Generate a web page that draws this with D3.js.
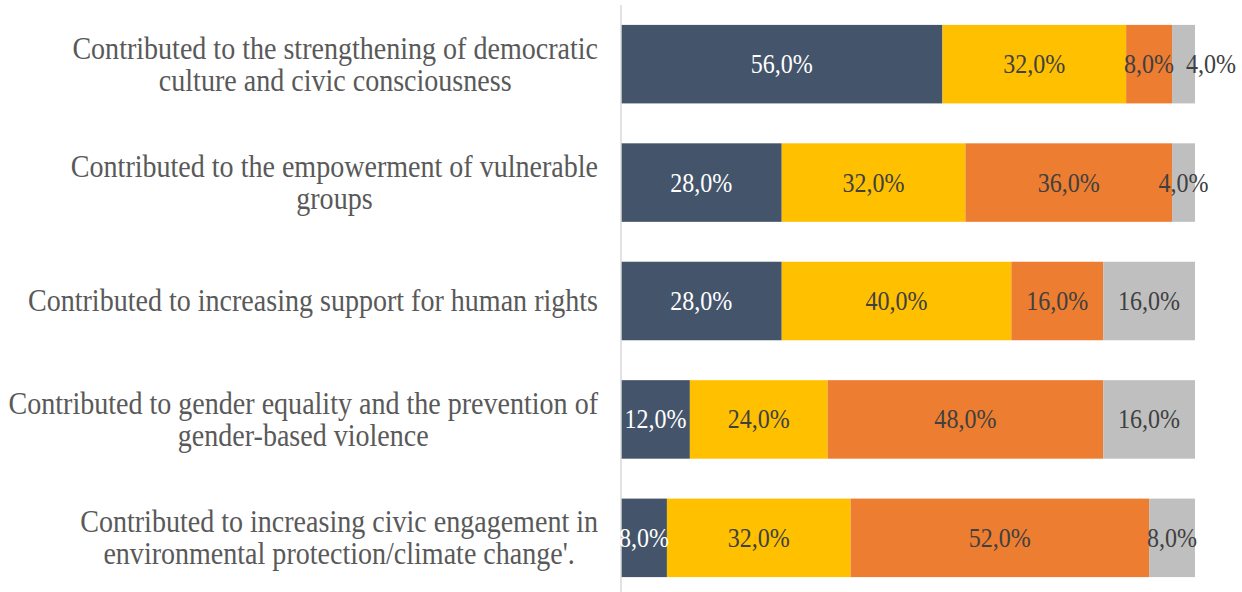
<!DOCTYPE html>
<html>
<head>
<meta charset="utf-8">
<script src="https://cdn.jsdelivr.net/npm/d3@7"></script>
<style>
  html, body { margin: 0; padding: 0; background: #fff; }
  svg { display: block; }
</style>
</head>
<body>
<div id="chart"></div>
<script>
// Category labels (each entry is the list of wrapped lines)
const categories = [
  ["Contributed to the strengthening of democratic", "culture and civic consciousness"],
  ["Contributed to the empowerment of vulnerable", "groups"],
  ["Contributed to increasing support for human rights"],
  ["Contributed to gender equality and the prevention of", "gender-based violence"],
  ["Contributed to increasing civic engagement in", "environmental protection/climate change'."]
];

// Stacked shares per category (percent)
const seriesA = [56, 28, 28, 12, 8];
const seriesB = [32, 32, 40, 24, 32];
const seriesC = [8, 36, 16, 48, 52];
const seriesD = [4, 4, 16, 16, 8];

const seriesColors = ["#44546A", "#FFC000", "#ED7D31", "#BFBFBF"];
const labelColors = ["#FFFFFF", "#404040", "#404040", "#404040"];

const W = 1242, H = 592;
const FONT = "'Liberation Serif', 'Times New Roman', serif";
const svg = d3.select("#chart").append("svg").attr("width", W).attr("height", H);

const ids = categories.map((_, i) => i);
const rows = ids.map(i => ({ i, A: seriesA[i], B: seriesB[i], C: seriesC[i], D: seriesD[i] }));
const keys = ["A", "B", "C", "D"];
const stacked = d3.stack().keys(keys)(rows);

const x = d3.scaleLinear().domain([0, 100]).range([621, 1195]);
const y = d3.scaleBand().domain(ids).range([5, 597]).paddingInner(0.337).paddingOuter(0.168);

const fmt = v => d3.format(".1f")(v).replace(".", ",") + "%";

// Segments
const layer = svg.selectAll("g.layer").data(stacked).join("g")
  .attr("class", "layer")
  .attr("fill", (d, k) => seriesColors[k]);

layer.selectAll("rect").data(d => d).join("rect")
  .attr("x", d => x(d[0]))
  .attr("y", d => y(d.data.i))
  .attr("width", d => x(d[1]) - x(d[0]))
  .attr("height", y.bandwidth());

// Vertical category axis line
svg.append("line")
  .attr("x1", x(0)).attr("x2", x(0))
  .attr("y1", y.range()[0]).attr("y2", y.range()[1])
  .attr("stroke", "#D9D9D9").attr("stroke-width", 1.5);

// Narrow text helper: text drawn at (cx, cy), condensed horizontally
function narrowText(parent, cx, cy, str, size, sx, fill) {
  const g = parent.append("g").attr("transform", `translate(${cx},${cy}) scale(${sx},1)`);
  const t = g.append("text")
    .attr("x", 0).attr("y", 0)
    .attr("text-anchor", "middle")
    .attr("dominant-baseline", "central")
    .attr("font-family", FONT)
    .attr("font-size", size)
    .attr("fill", fill)
    .text(str);
  return { g, t, w: t.node().getComputedTextLength() * sx };
}

// Value labels centred in each segment; a label that would collide with
// the one before it is pushed to the right
const valSize = 27, valSx = 0.89;
const valueLayer = svg.append("g");
ids.forEach(i => {
  let prevRight = -Infinity;
  stacked.forEach((s, k) => {
    const d = s[i];
    let cx = (x(d[0]) + x(d[1])) / 2;
    const cy = y(i) + y.bandwidth() / 2;
    const lbl = narrowText(valueLayer, cx, cy, fmt(d[1] - d[0]), valSize, valSx, labelColors[k]);
    if (cx - lbl.w / 2 < prevRight + 4) {
      cx = prevRight + 12 + lbl.w / 2;
      lbl.g.attr("transform", `translate(${cx},${cy}) scale(${valSx},1)`);
    }
    prevRight = cx + lbl.w / 2;
  });
});

// Category labels: lines centred on each other, block right-aligned to the axis
const catSize = 31, catSx = 0.905, lineH = 32;
const labelRight = 598;
categories.forEach((lines, i) => {
  const cy = y(i) + y.bandwidth() / 2;
  const items = lines.map((ln, j) =>
    narrowText(svg, 0, cy + (j - (lines.length - 1) / 2) * lineH, ln, catSize, catSx, "#595959"));
  const maxW = d3.max(items, it => it.w);
  items.forEach((it, j) => {
    const ly = cy + (j - (lines.length - 1) / 2) * lineH;
    it.g.attr("transform", `translate(${labelRight - maxW / 2},${ly}) scale(${catSx},1)`);
  });
});
</script>
</body>
</html>
